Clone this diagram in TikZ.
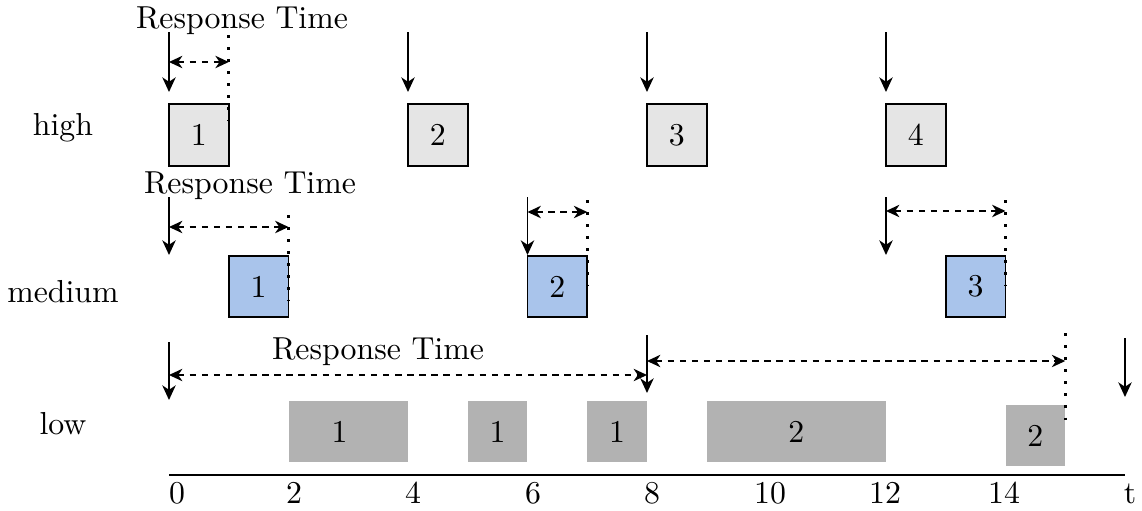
\documentclass[tikz,border=0pt]{standalone}
\usetikzlibrary{arrows.meta}
\definecolor{medblue}{HTML}{A9C4EB}
\begin{document}
\begin{tikzpicture}[x=0.3145pt,y=-0.3145pt,
 box/.style={minimum width=18.79pt, minimum height=19.3pt, inner sep=0pt, outer sep=0pt},
 hibox/.style={box, draw, fill=gray!20, line width=0.5pt},
 mebox/.style={box, draw, fill=medblue, line width=0.5pt},
 lobox/.style={box, fill=gray!60},
 release/.style={-{Stealth[length=4.6pt,width=4.2pt,inset=1.4pt]}, line width=0.6pt},
 resp/.style={{Stealth[length=4.2pt,width=3.9pt,inset=1.3pt]}-{Stealth[length=4.2pt,width=3.9pt,inset=1.3pt]}, dash pattern=on 2pt off 1.8pt, line width=0.5pt},
 deadline/.style={line width=1pt, dash pattern=on 0.9pt off 2.9pt},
 lbl/.style={inner sep=0pt},
]
\useasboundingbox (0,0) rectangle (1142,511);

% row labels
\node[lbl] (lhigh) at (63,128) {high};
\node[lbl] (lmed) at (63,292) {medium};
\node[lbl] (llow) at (63,424) {low};

% high boxes
\node[hibox, minimum height=19.5pt] (h1) at (198.9,135) {1};
\node[hibox, minimum height=19.5pt] (h2) at (437.9,135) {2};
\node[hibox, minimum height=19.5pt] (h3) at (676.9,135) {3};
\node[hibox, minimum height=19.5pt] (h4) at (915.9,135) {4};

% medium boxes
\node[mebox] (m1) at (258.6,286.5) {1};
\node[mebox] (m2) at (557.4,286.5) {2};
\node[mebox] (m3) at (975.6,286.5) {3};

% low boxes
\node[lobox, minimum width=37.58pt] (l1) at (348.3,431.5) {};
\node[lbl] (l1t) at (339.5,431.5) {1};
\node[lobox] (l2) at (497.6,431.5) {1};
\node[lobox] (l3) at (617.1,431.5) {1};
\node[lobox, minimum width=56.37pt] (l4) at (796.4,431.5) {2};
\node[lobox] (l5) at (1035.4,435.5) {2};

% response time labels
\node[lbl, anchor=base] (rt1) at (242,28) {Response Time};
\node[lbl, anchor=base] (rt2) at (250,193) {Response Time};
\node[lbl, anchor=base] (rt3) at (378,359) {Response Time};

% release arrows
\foreach \n/\x/\ya/\yb in {ha/169/32/92, hb/408/32/92, hc/647/32/92, hd/886/32/92,
  ma/169/197/255, mb/527.5/197/255, mc/886/197/255,
  la/169/342/400, lb/647/335/393, lc/1125/338/397}{
  \coordinate (\n s) at (\x,\ya);
  \coordinate (\n e) at (\x,\yb);
  \draw[release] (\n s) -- (\n e);
}

% deadlines
\foreach \n/\x/\ya/\yb in {da/228.75/35/121, db/288.5/215/301, dc/587.25/200/286, dd/1005.5/200/286, de/1065.25/333/421}{
  \coordinate (\n s) at (\x,\ya);
  \coordinate (\n e) at (\x,\yb);
  \draw[deadline] (\n s) -- (\n e);
}

% response time arrows
\foreach \n/\xa/\xb/\y in {ra/169/228.75/62, rb/169/288.5/227, rc/527.5/587.25/212, rd/886/1005.5/211, re/169/647/375, rf/647/1065.25/361}{
  \coordinate (\n s) at (\xa,\y);
  \coordinate (\n e) at (\xb,\y);
  \draw[resp] (\n s) -- (\n e);
}

% time axis
\coordinate (ax0) at (169,475);
\coordinate (ax1) at (1125,475);
\draw[line width=0.6pt] (ax0) -- (ax1);
\foreach \n/\x/\t in {a/177/0, b/294/2, c/413/4, d/533/6, e/652/8, f/770/10, g/885/12, h/1004/14}{
  \node[lbl, anchor=base] (tk\n) at (\x,503) {\t};
}
\node[lbl, anchor=base] (tkt) at (1130,503) {t};
\end{tikzpicture}
\end{document}
